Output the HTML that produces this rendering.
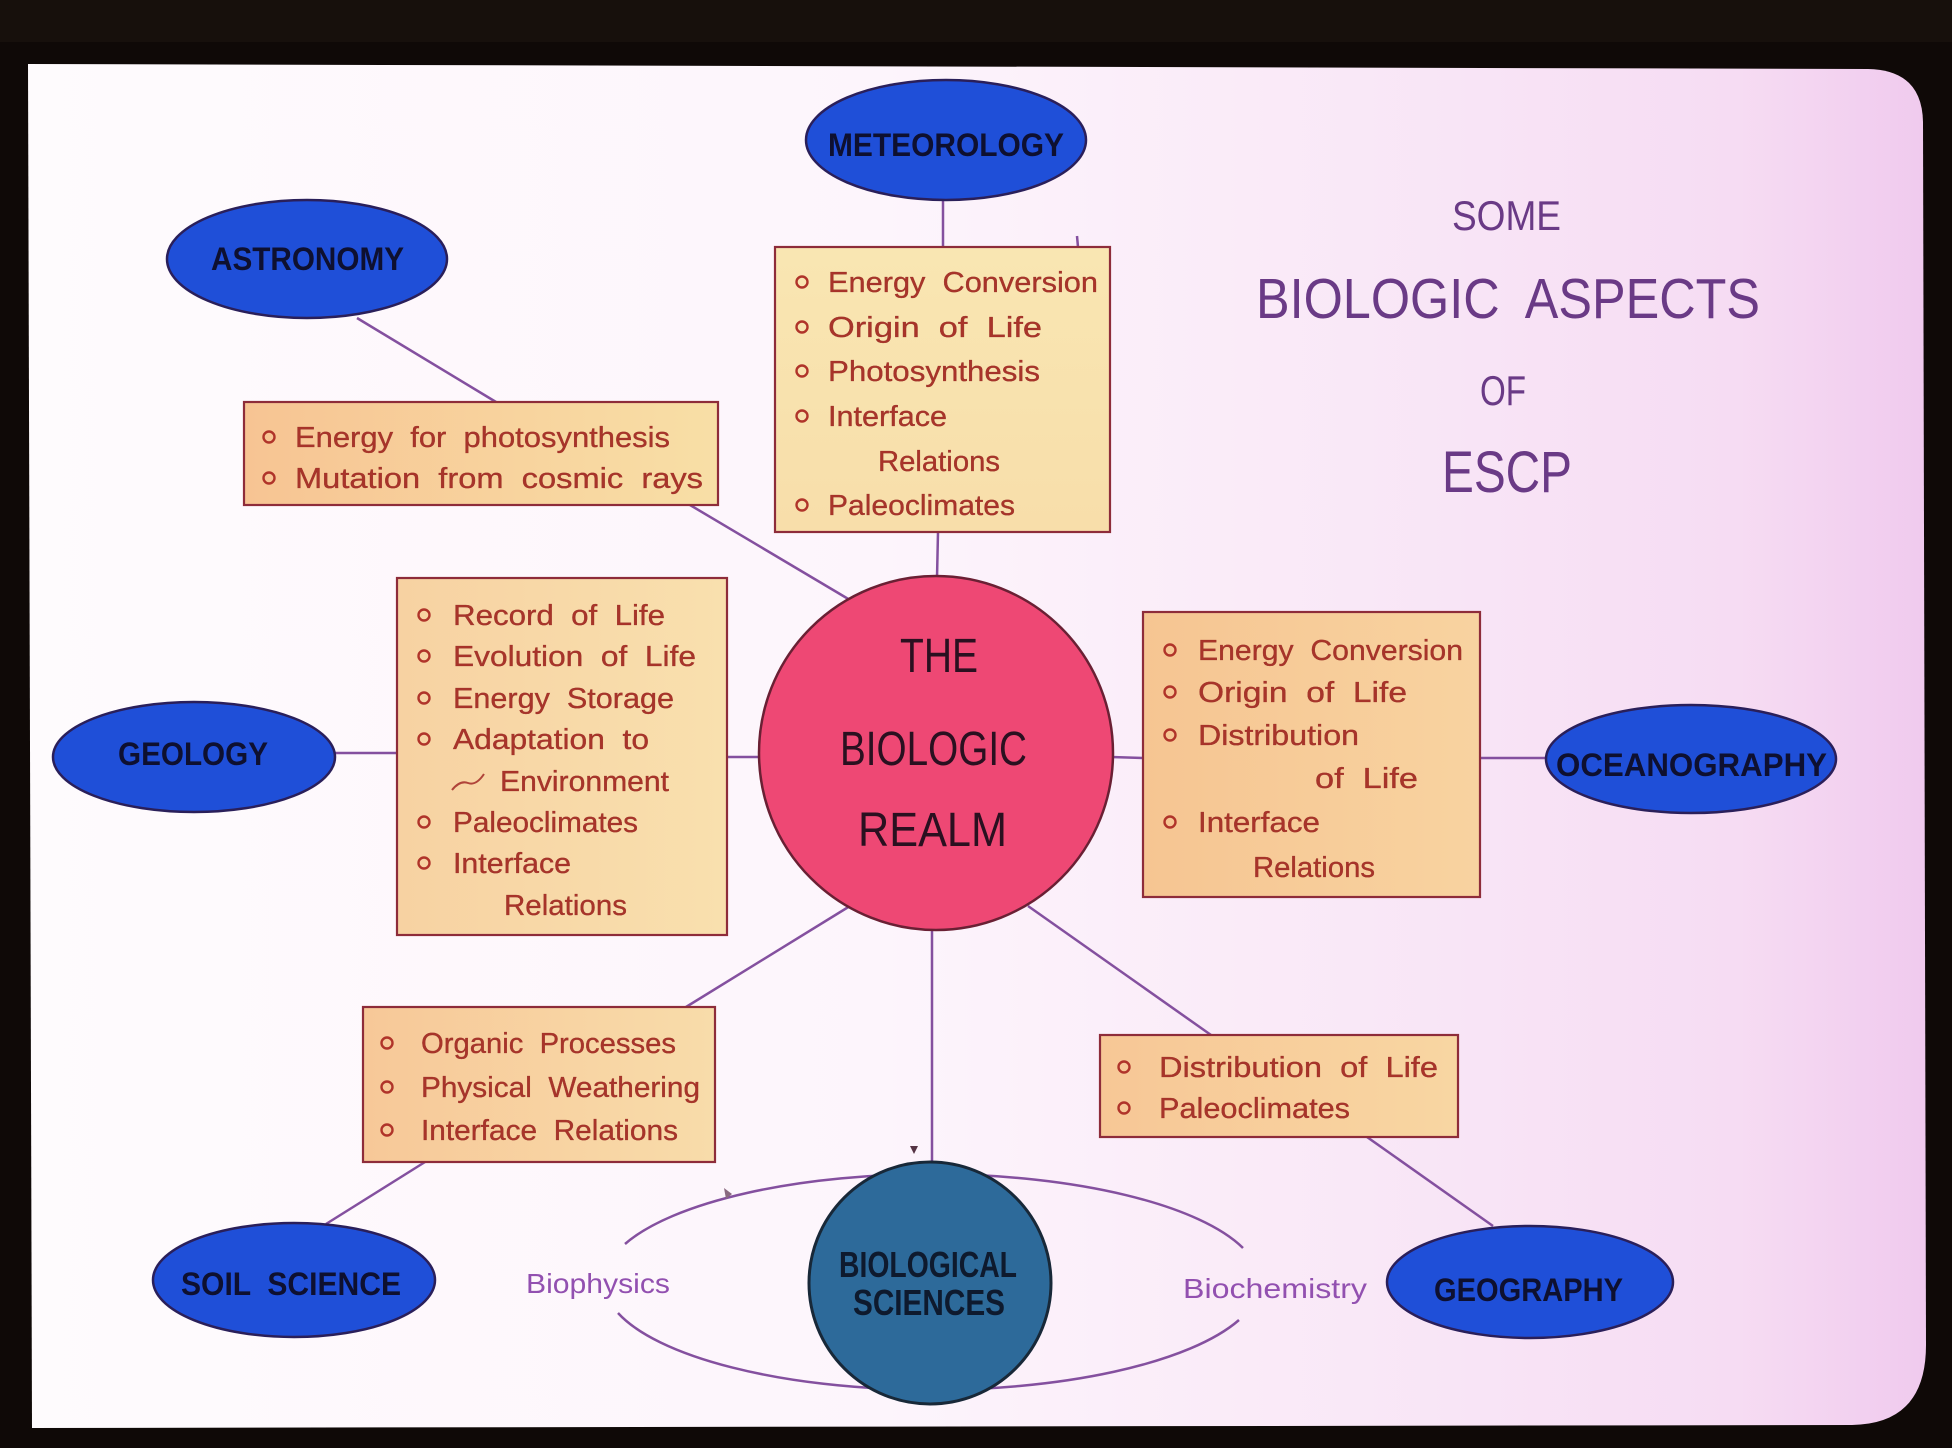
<!DOCTYPE html>
<html>
<head>
<meta charset="utf-8">
<style>
html,body{margin:0;padding:0;background:#0f0907;}
svg{display:block;}
text{font-family:"Liberation Sans",sans-serif;white-space:pre;}
.bx{font-size:29px;fill:#a8342a;stroke:#962c24;stroke-width:0.3;}
.lbl{font-size:32px;font-weight:bold;fill:#0e1030;}
.ttl{fill:#6a3a86;font-weight:normal;}
.con{stroke:#84509f;stroke-width:2.5;fill:none;}
.bul{fill:none;stroke:#b0342a;stroke-width:2.4;}
.box{stroke:#8e2c3a;stroke-width:2.2;}
.ell{fill:#1f4fd8;stroke:#2a1f5a;stroke-width:2.5;}
</style>
</head>
<body>
<svg width="1952" height="1448" viewBox="0 0 1952 1448" xmlns="http://www.w3.org/2000/svg">
<defs>
<linearGradient id="bg" x1="0" y1="0" x2="1" y2="0">
<stop offset="0" stop-color="#fefbfd"/>
<stop offset="0.45" stop-color="#fdf5fc"/>
<stop offset="0.7" stop-color="#f9e8f7"/>
<stop offset="0.9" stop-color="#f6dcf3"/>
<stop offset="1" stop-color="#f0caee"/>
</linearGradient>
<linearGradient id="gAst" x1="0" y1="0" x2="1" y2="0"><stop offset="0" stop-color="#f7c493"/><stop offset="1" stop-color="#f8dfa6"/></linearGradient>
<linearGradient id="gMet" x1="0" y1="0" x2="0" y2="1"><stop offset="0" stop-color="#f9e6b2"/><stop offset="1" stop-color="#f8deaa"/></linearGradient>
<linearGradient id="gGeo" x1="0" y1="0" x2="1" y2="0"><stop offset="0" stop-color="#f7d2a2"/><stop offset="1" stop-color="#f9e0ae"/></linearGradient>
<linearGradient id="gOce" x1="0" y1="0" x2="1" y2="0"><stop offset="0" stop-color="#f6c592"/><stop offset="1" stop-color="#f8d3a0"/></linearGradient>
<linearGradient id="gSoil" x1="0" y1="0" x2="1" y2="0"><stop offset="0" stop-color="#f7c898"/><stop offset="1" stop-color="#f8dcaa"/></linearGradient>
<linearGradient id="gGeog" x1="0" y1="0" x2="1" y2="0"><stop offset="0" stop-color="#f7c796"/><stop offset="1" stop-color="#f8d6a2"/></linearGradient>
</defs>

<!-- frame -->
<rect x="0" y="0" width="1952" height="1448" fill="#0f0907"/>
<rect x="0" y="0" width="1952" height="42" fill="#17100c"/>
<path d="M28,64 L1868,69 Q1922,70 1923,122 L1926,1345 Q1926,1424 1852,1425 L32,1428 Z" fill="url(#bg)"/>

<!-- connectors -->
<line class="con" x1="357" y1="318" x2="496" y2="402"/>
<line class="con" x1="690" y1="505" x2="850" y2="600"/>
<line class="con" x1="943" y1="200" x2="943" y2="247"/>
<line class="con" x1="938" y1="532" x2="937" y2="578"/>
<line class="con" x1="335" y1="753" x2="397" y2="753"/>
<line class="con" x1="727" y1="757" x2="762" y2="757"/>
<line class="con" x1="1111" y1="757" x2="1143" y2="758"/>
<line class="con" x1="1480" y1="758" x2="1548" y2="758"/>
<line class="con" x1="850" y1="906" x2="686" y2="1007"/>
<line class="con" x1="425" y1="1162" x2="326" y2="1224"/>
<line class="con" x1="932" y1="928" x2="932" y2="1164"/>
<line class="con" x1="1028" y1="906" x2="1211" y2="1035"/>
<line class="con" x1="1367" y1="1137" x2="1493" y2="1226"/>
<line class="con" x1="1077" y1="236" x2="1078" y2="247" />

<!-- ring around biological sciences -->
<path class="con" d="M 625 1244 A 328 108 0 0 1 1243 1248"/>
<path class="con" d="M 618 1313 A 328 108 0 0 0 1239 1320"/>
<path d="M724,1188 L732,1194 L726,1199 Z" fill="#8a6a80"/>
<path d="M910,1146 L918,1146 L914,1154 Z" fill="#553344"/>

<!-- blue ellipses -->
<ellipse class="ell" cx="307" cy="259" rx="140" ry="59"/>
<ellipse class="ell" cx="946" cy="140" rx="140" ry="60"/>
<ellipse class="ell" cx="194" cy="757" rx="141" ry="55"/>
<ellipse class="ell" cx="1691" cy="759" rx="145" ry="54"/>
<ellipse class="ell" cx="294" cy="1280" rx="141" ry="57"/>
<ellipse class="ell" cx="1530" cy="1282" rx="143" ry="56"/>

<text class="lbl" x="211" y="270" font-size="29" textLength="193" lengthAdjust="spacingAndGlyphs">ASTRONOMY</text>
<text class="lbl" x="828" y="156" font-size="33" textLength="236" lengthAdjust="spacingAndGlyphs">METEOROLOGY</text>
<text class="lbl" x="118" y="765" font-size="32" textLength="150" lengthAdjust="spacingAndGlyphs">GEOLOGY</text>
<text class="lbl" x="1556" y="776" font-size="36" textLength="271" lengthAdjust="spacingAndGlyphs">OCEANOGRAPHY</text>
<text class="lbl" x="181" y="1295" font-size="32" textLength="220" lengthAdjust="spacingAndGlyphs">SOIL  SCIENCE</text>
<text class="lbl" x="1434" y="1301" font-size="34" textLength="189" lengthAdjust="spacingAndGlyphs">GEOGRAPHY</text>

<!-- central circle -->
<circle cx="936" cy="753" r="177" fill="#ee4874" stroke="#6a2034" stroke-width="2.5"/>
<text x="900" y="672" font-size="48" fill="#2a1020" textLength="78" lengthAdjust="spacingAndGlyphs">THE</text>
<text x="840" y="765" font-size="48" fill="#2a1020" textLength="187" lengthAdjust="spacingAndGlyphs">BIOLOGIC</text>
<text x="858" y="846" font-size="48" fill="#2a1020" textLength="149" lengthAdjust="spacingAndGlyphs">REALM</text>

<!-- biological sciences circle -->
<circle cx="930" cy="1283" r="121" fill="#2d6a9a" stroke="#182838" stroke-width="3"/>
<text x="839" y="1277" font-size="36" font-weight="bold" fill="#0e1a2e" textLength="178" lengthAdjust="spacingAndGlyphs">BIOLOGICAL</text>
<text x="853" y="1315" font-size="36" font-weight="bold" fill="#0e1a2e" textLength="152" lengthAdjust="spacingAndGlyphs">SCIENCES</text>

<text x="526" y="1293" font-size="28" fill="#9250b0" textLength="144" lengthAdjust="spacingAndGlyphs">Biophysics</text>
<text x="1183" y="1298" font-size="28" fill="#9250b0" textLength="184" lengthAdjust="spacingAndGlyphs">Biochemistry</text>

<!-- title -->
<text class="ttl" x="1452" y="230" font-size="42" textLength="109" lengthAdjust="spacingAndGlyphs">SOME</text>
<text class="ttl" x="1256" y="318" font-size="57" textLength="504" lengthAdjust="spacingAndGlyphs">BIOLOGIC  ASPECTS</text>
<text class="ttl" x="1480" y="405" font-size="42" textLength="46" lengthAdjust="spacingAndGlyphs">OF</text>
<text class="ttl" x="1442" y="492" font-size="58" textLength="130" lengthAdjust="spacingAndGlyphs">ESCP</text>

<!-- Astronomy box -->
<rect class="box" x="244" y="402" width="474" height="103" fill="url(#gAst)"/>
<circle class="bul" cx="269" cy="437" r="5.5"/>
<circle class="bul" cx="269" cy="478" r="5.5"/>
<text class="bx" x="295" y="447" textLength="375" lengthAdjust="spacingAndGlyphs">Energy  for  photosynthesis</text>
<text class="bx" x="295" y="488" textLength="408" lengthAdjust="spacingAndGlyphs">Mutation  from  cosmic  rays</text>

<!-- Meteorology box -->
<rect class="box" x="775" y="247" width="335" height="285" fill="url(#gMet)"/>
<circle class="bul" cx="802" cy="282" r="5.5"/>
<circle class="bul" cx="802" cy="327" r="5.5"/>
<circle class="bul" cx="802" cy="371" r="5.5"/>
<circle class="bul" cx="802" cy="416" r="5.5"/>
<circle class="bul" cx="802" cy="505" r="5.5"/>
<text class="bx" x="828" y="292" textLength="270" lengthAdjust="spacingAndGlyphs">Energy  Conversion</text>
<text class="bx" x="828" y="337" textLength="214" lengthAdjust="spacingAndGlyphs">Origin  of  Life</text>
<text class="bx" x="828" y="381" textLength="212" lengthAdjust="spacingAndGlyphs">Photosynthesis</text>
<text class="bx" x="828" y="426" textLength="119" lengthAdjust="spacingAndGlyphs">Interface</text>
<text class="bx" x="878" y="471" textLength="122" lengthAdjust="spacingAndGlyphs">Relations</text>
<text class="bx" x="828" y="515" textLength="187" lengthAdjust="spacingAndGlyphs">Paleoclimates</text>

<!-- Geology box -->
<rect class="box" x="397" y="578" width="330" height="357" fill="url(#gGeo)"/>
<circle class="bul" cx="424" cy="615" r="5.5"/>
<circle class="bul" cx="424" cy="656" r="5.5"/>
<circle class="bul" cx="424" cy="698" r="5.5"/>
<circle class="bul" cx="424" cy="739" r="5.5"/>
<circle class="bul" cx="424" cy="822" r="5.5"/>
<circle class="bul" cx="424" cy="863" r="5.5"/>
<text class="bx" x="453" y="625" textLength="212" lengthAdjust="spacingAndGlyphs">Record  of  Life</text>
<text class="bx" x="453" y="666" textLength="243" lengthAdjust="spacingAndGlyphs">Evolution  of  Life</text>
<text class="bx" x="453" y="708" textLength="221" lengthAdjust="spacingAndGlyphs">Energy  Storage</text>
<text class="bx" x="453" y="749" textLength="196" lengthAdjust="spacingAndGlyphs">Adaptation  to</text>
<text class="bx" x="500" y="791" textLength="169" lengthAdjust="spacingAndGlyphs">Environment</text>
<text class="bx" x="453" y="832" textLength="185" lengthAdjust="spacingAndGlyphs">Paleoclimates</text>
<text class="bx" x="453" y="873" textLength="118" lengthAdjust="spacingAndGlyphs">Interface</text>
<text class="bx" x="504" y="915" textLength="123" lengthAdjust="spacingAndGlyphs">Relations</text>
<path d="M452,790 Q460,780 468,783 T484,774" fill="none" stroke="#b0443a" stroke-width="2"/>

<!-- Oceanography box -->
<rect class="box" x="1143" y="612" width="337" height="285" fill="url(#gOce)"/>
<circle class="bul" cx="1170" cy="650" r="5.5"/>
<circle class="bul" cx="1170" cy="692" r="5.5"/>
<circle class="bul" cx="1170" cy="735" r="5.5"/>
<circle class="bul" cx="1170" cy="822" r="5.5"/>
<text class="bx" x="1198" y="660" textLength="265" lengthAdjust="spacingAndGlyphs">Energy  Conversion</text>
<text class="bx" x="1198" y="702" textLength="209" lengthAdjust="spacingAndGlyphs">Origin  of  Life</text>
<text class="bx" x="1198" y="745" textLength="161" lengthAdjust="spacingAndGlyphs">Distribution</text>
<text class="bx" x="1315" y="788" textLength="103" lengthAdjust="spacingAndGlyphs">of  Life</text>
<text class="bx" x="1198" y="832" textLength="122" lengthAdjust="spacingAndGlyphs">Interface</text>
<text class="bx" x="1253" y="877" textLength="122" lengthAdjust="spacingAndGlyphs">Relations</text>

<!-- Soil box -->
<rect class="box" x="363" y="1007" width="352" height="155" fill="url(#gSoil)"/>
<circle class="bul" cx="387" cy="1043" r="5.5"/>
<circle class="bul" cx="387" cy="1087" r="5.5"/>
<circle class="bul" cx="387" cy="1130" r="5.5"/>
<text class="bx" x="421" y="1053" textLength="255" lengthAdjust="spacingAndGlyphs">Organic  Processes</text>
<text class="bx" x="421" y="1097" textLength="279" lengthAdjust="spacingAndGlyphs">Physical  Weathering</text>
<text class="bx" x="421" y="1140" textLength="257" lengthAdjust="spacingAndGlyphs">Interface  Relations</text>

<!-- Geography box -->
<rect class="box" x="1100" y="1035" width="358" height="102" fill="url(#gGeog)"/>
<circle class="bul" cx="1124" cy="1067" r="5.5"/>
<circle class="bul" cx="1124" cy="1108" r="5.5"/>
<text class="bx" x="1159" y="1077" textLength="279" lengthAdjust="spacingAndGlyphs">Distribution  of  Life</text>
<text class="bx" x="1159" y="1118" textLength="191" lengthAdjust="spacingAndGlyphs">Paleoclimates</text>
</svg>
</body>
</html>
